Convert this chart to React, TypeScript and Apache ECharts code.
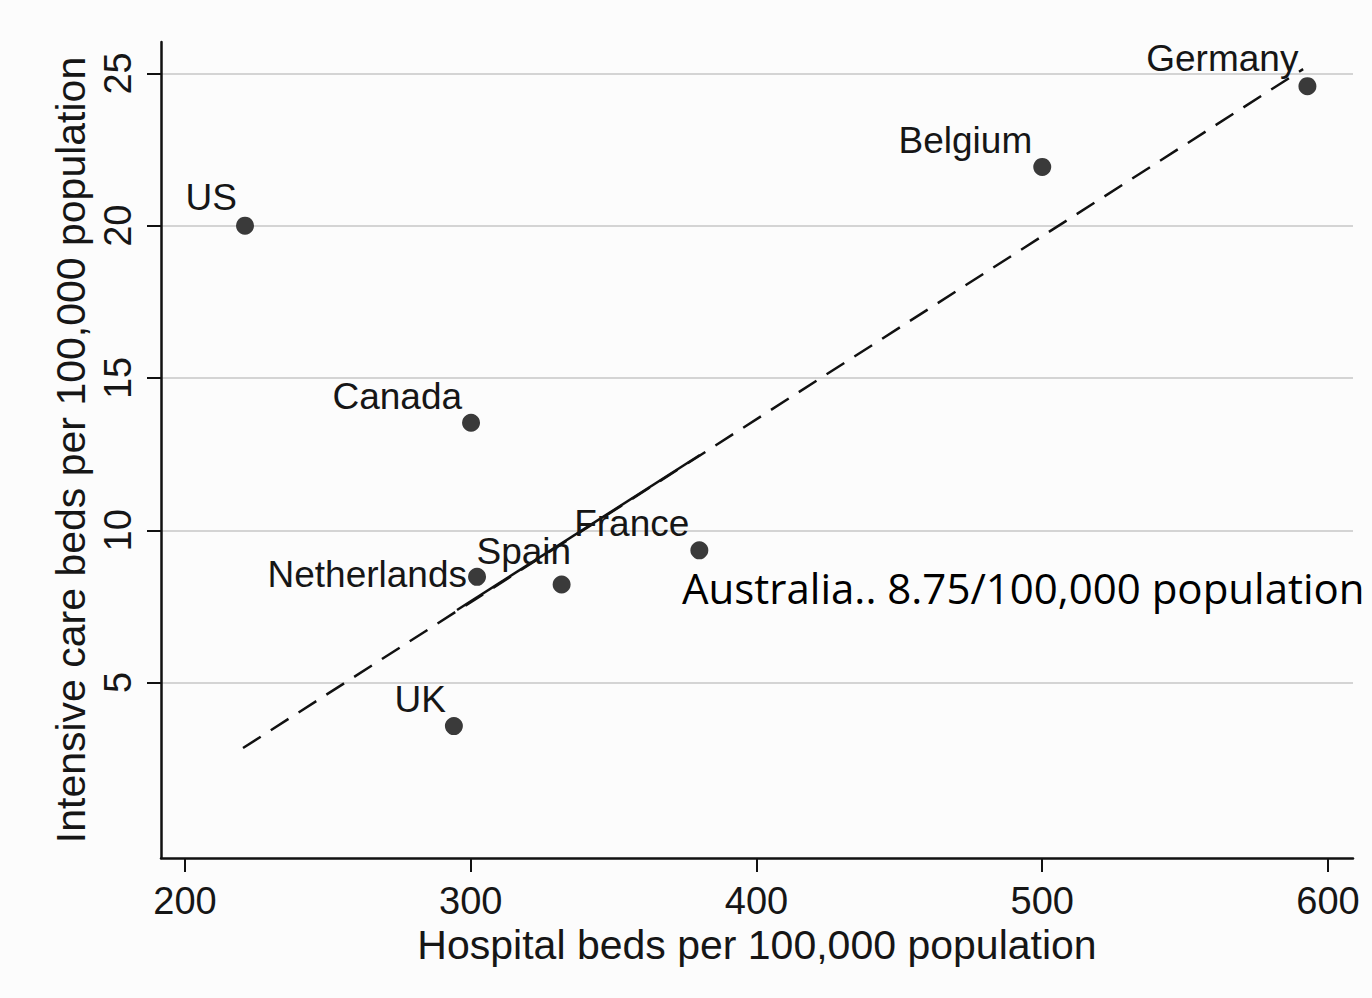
import React, { useEffect, useRef } from "react";
import * as echarts from "echarts";

// ---- data ----
const countries = ["US", "Canada", "Netherlands", "Spain", "France", "UK", "Belgium", "Germany"];
const hospitalBeds = [221.0, 300.1, 302.2, 331.8, 380.0, 294.1, 500.0, 592.8];
const icuBeds = [20.0, 13.53, 8.47, 8.22, 9.34, 3.57, 21.93, 24.58];

// fitted line endpoints (dashed) and its solid middle stretch
const fitX = [220.3, 591.3];
const fitY = [2.85, 25.14];
const fitSolidX = [295.2, 380.2];
const fitSolidY = [7.38, 12.47];

const xTicks = [200, 300, 400, 500, 600];
const yTicks = [5, 10, 15, 20, 25];

const xTitle = "Hospital beds per 100,000 population";
const yTitle = "Intensive care beds per 100,000 population";
const note = "Australia.. 8.75/100,000 population";

// label nudges (styling, per country)
const labelNudge: Record<string, [number, number]> = {
  US: [1, -28],
  Canada: [0, -26],
  Netherlands: [-1, -2],
  Spain: [18.5, -33],
  France: [-1, -27],
  UK: [1, -27],
  Belgium: [-1, -26],
  Germany: [0, -28],
};

const FONT = "'Liberation Sans', Arial, Helvetica, sans-serif";
const INK = "#161616";

export default function App() {
  const ref = useRef<HTMLDivElement>(null);

  useEffect(() => {
    if (!ref.current) return;
    const chart = echarts.init(ref.current, undefined, { renderer: "svg" });

    const points = countries.map((c, i) => ({
      name: c,
      value: [hospitalBeds[i], icuBeds[i]],
      label: { offset: labelNudge[c] || [0, -26] },
    }));

    chart.setOption({
      animation: false,
      backgroundColor: "#fcfcfc",
      textStyle: { fontFamily: FONT },
      grid: { left: 161, right: 19, top: 42, bottom: 140, containLabel: false },
      xAxis: {
        type: "value",
        min: 191.6,
        max: 608.75,
        name: xTitle,
        nameLocation: "middle",
        nameGap: 58,
        nameTextStyle: { fontSize: 41, color: INK, fontFamily: FONT },
        axisLine: { show: true, onZero: false, lineStyle: { color: "#111", width: 2.5 } },
        axisTick: { show: true, length: 14, customValues: xTicks, lineStyle: { color: "#111", width: 2 } },
        axisLabel: { customValues: xTicks, fontSize: 38, color: INK, margin: 24, fontFamily: FONT },
        splitLine: { show: false },
      },
      yAxis: {
        type: "value",
        min: -0.76,
        max: 26.03,
        name: yTitle,
        nameLocation: "middle",
        nameRotate: 90,
        nameGap: 68,
        nameTextStyle: { fontSize: 41, color: INK, fontFamily: FONT },
        axisLine: { show: true, onZero: false, lineStyle: { color: "#111", width: 2.5 } },
        axisTick: { show: true, length: 14, customValues: yTicks, lineStyle: { color: "#111", width: 2 } },
        axisLabel: { customValues: yTicks, rotate: 90, fontSize: 38, color: INK, margin: 24, fontFamily: FONT },
        splitLine: { show: true, lineStyle: { color: "#d4d4d4", width: 2 } },
      },
      series: [
        {
          type: "line",
          data: fitX.map((x, i) => [x, fitY[i]]),
          symbol: "none",
          lineStyle: { color: "#111", width: 2.5, type: [21, 12] },
          z: 2,
        },
        {
          type: "line",
          data: fitSolidX.map((x, i) => [x, fitSolidY[i]]),
          symbol: "none",
          lineStyle: { color: "#111", width: 2.5, type: "solid" },
          z: 2,
        },
        {
          type: "scatter",
          data: points,
          symbol: "circle",
          symbolSize: 18,
          itemStyle: { color: "#3a3a3a", opacity: 1 },
          label: {
            show: true,
            position: "left",
            distance: 0,
            formatter: (p: any) => p.name,
            fontSize: 37,
            color: INK,
            fontFamily: FONT,
          },
          z: 3,
        },
      ],
      graphic: [
        {
          type: "text",
          left: 682,
          top: 566,
          style: {
            text: note,
            fontSize: 42,
            fontFamily: "'Open Sans', 'Noto Sans', sans-serif",
            fill: "#000",
          },
          z: 10,
        },
      ],
    });

    return () => chart.dispose();
  }, []);

  return (
    <div
      ref={ref}
      style={{ position: "absolute", left: 0, top: 0, width: 1372, height: 998 }}
    />
  );
}
